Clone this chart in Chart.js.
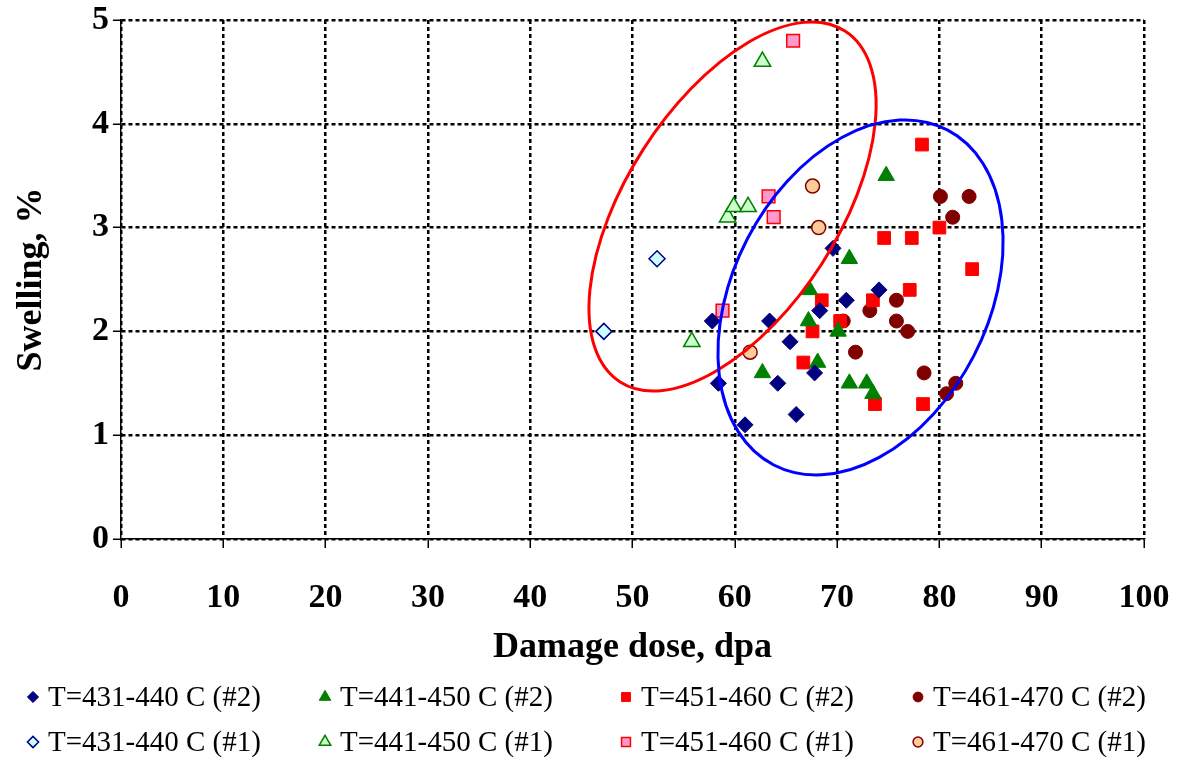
<!DOCTYPE html>
<html>
<head>
<meta charset="utf-8">
<script src="https://cdn.jsdelivr.net/npm/chart.js@4.4.1/dist/chart.umd.min.js"></script>
<style>
html,body{margin:0;padding:0;background:#fff;}
#wrap{width:1181px;height:758px;}
</style>
</head>
<body>
<div id="wrap"><canvas id="c" width="1181" height="758"></canvas></div>
<script>
// ---- data (x: damage dose, dpa; y: swelling, %) ----
const xTicks = [0,10,20,30,40,50,60,70,80,90,100];
const yTicks = [0,1,2,3,4,5];

const labels = [
  'T=431-440 C (#2)','T=441-450 C (#2)','T=451-460 C (#2)','T=461-470 C (#2)',
  'T=431-440 C (#1)','T=441-450 C (#1)','T=451-460 C (#1)','T=461-470 C (#1)'
];

const t431_2 = [[57.8,2.1],[58.4,1.5],[61.0,1.1],[63.4,2.1],[64.2,1.5],[65.4,1.9],[66.0,1.2],[67.8,1.6],[68.3,2.2],[69.6,2.8],[70.9,2.3],[74.1,2.4]];
const t441_2 = [[62.7,1.6],[67.3,2.4],[67.2,2.1],[68.1,1.7],[70.1,2.0],[71.2,2.7],[71.2,1.5],[72.9,1.5],[73.5,1.4],[74.8,3.5]];
const t451_2 = [[66.7,1.7],[67.6,2.0],[68.5,2.3],[70.3,2.1],[73.5,2.3],[73.7,1.3],[74.6,2.9],[77.1,2.4],[77.3,2.9],[78.3,3.8],[78.4,1.3],[80.0,3.0],[83.2,2.6]];
const t461_2 = [[70.6,2.1],[71.8,1.8],[73.2,2.2],[75.8,2.3],[75.8,2.1],[76.9,2.0],[78.5,1.6],[80.1,3.3],[80.7,1.4],[81.3,3.1],[81.6,1.5],[82.9,3.3]];
const t431_1 = [[47.2,2.0],[52.4,2.7]];
const t441_1 = [[55.8,1.9],[59.3,3.1],[59.9,3.2],[61.3,3.2],[62.7,4.6]];
const t451_1 = [[58.8,2.2],[63.3,3.3],[63.8,3.1],[65.7,4.8]];
const t461_1 = [[61.5,1.8],[67.6,3.4],[68.2,3.0]];

// ellipse annotations: centre and two conjugate semi-axis vectors, in data units
const ellipseRed  = {center:[59.78,3.203], u:[10.99,1.690], v:[8.73,-0.551]};
const ellipseBlue = {center:[72.29,2.327], u:[8.48,1.614],  v:[11.06,-0.565]};

// ---- build datasets ----
const toPts = a => a.map(p => ({x:p[0], y:p[1]}));
const series = [t431_2,t441_2,t451_2,t461_2,t431_1,t441_1,t451_1,t461_1];
const styles = [
  {ps:'rectRot', r:8,   bg:'#000080', bc:'#000080', bw:1},
  {ps:'triangle',r:9.5, bg:'#008000', bc:'#008000', bw:1},
  {ps:'rect',    r:9,   bg:'#ff0000', bc:'#ff0000', bw:1},
  {ps:'circle',  r:7,   bg:'#800000', bc:'#800000', bw:1},
  {ps:'rectRot', r:8,   bg:'#ccffff', bc:'#000080', bw:1.5},
  {ps:'triangle',r:9.5, bg:'#ccffcc', bc:'#008000', bw:1.5},
  {ps:'rect',    r:9,   bg:'#ff99cc', bc:'#ff0000', bw:1.5},
  {ps:'circle',  r:7,   bg:'#ffcc99', bc:'#800000', bw:1.5}
];
const datasets = series.map((s,i) => ({
  label: labels[i],
  data: toPts(s),
  pointStyle: styles[i].ps,
  pointRadius: styles[i].r,
  pointHoverRadius: styles[i].r,
  backgroundColor: styles[i].bg,
  borderColor: styles[i].bc,
  borderWidth: styles[i].bw,
  showLine: false
}));

const FONT = "'Liberation Serif', 'Times New Roman', serif";

const ellipsePlugin = {
  id: 'ellipses',
  afterDatasetsDraw(chart) {
    const ctx = chart.ctx, xs = chart.scales.x, ys = chart.scales.y;
    [[ellipseRed,'#ff0000'],[ellipseBlue,'#0000ff']].forEach(([e,col]) => {
      const cx = xs.getPixelForValue(e.center[0]), cy = ys.getPixelForValue(e.center[1]);
      const ux = xs.getPixelForValue(e.center[0]+e.u[0]) - cx, uy = ys.getPixelForValue(e.center[1]+e.u[1]) - cy;
      const vx = xs.getPixelForValue(e.center[0]+e.v[0]) - cx, vy = ys.getPixelForValue(e.center[1]+e.v[1]) - cy;
      ctx.save();
      ctx.beginPath();
      ctx.save();
      ctx.transform(ux,uy,vx,vy,cx,cy);
      ctx.arc(0,0,1,0,Math.PI*2);
      ctx.restore();
      ctx.lineWidth = 3;
      ctx.strokeStyle = col;
      ctx.stroke();
      ctx.restore();
    });
  }
};

const legendPlugin = {
  id: 'gridLegend',
  afterDraw(chart) {
    const ctx = chart.ctx;
    const colX = [33, 325, 626, 918];
    const rowY = [697, 742];
    ctx.save();
    ctx.font = "29px " + FONT;
    ctx.textBaseline = 'middle';
    ctx.textAlign = 'left';
    ctx.fillStyle = '#000';
    chart.data.datasets.forEach((ds,i) => {
      const col = i % 4, row = Math.floor(i/4);
      const x = colX[col], y = rowY[row];
      ctx.save();
      ctx.fillStyle = ds.backgroundColor;
      ctx.strokeStyle = ds.borderColor;
      ctx.lineWidth = ds.borderWidth;
      Chart.helpers.drawPoint(ctx, {pointStyle: ds.pointStyle, radius: ds.pointRadius*0.7, rotation: 0, borderWidth: ds.borderWidth}, x, y);
      ctx.restore();
      ctx.fillText(ds.label, x + 15, y + 1);
    });
    ctx.restore();
  }
};

new Chart(document.getElementById('c'), {
  type: 'scatter',
  data: { datasets },
  options: {
    responsive: false,
    animation: false,
    events: [],
    layout: { padding: { top: 20, right: 37, bottom: 89, left: 0 } },
    plugins: { legend: { display: false }, tooltip: { enabled: false } },
    scales: {
      x: {
        type: 'linear', min: 0, max: 100,
        afterBuildTicks: s => { s.ticks = xTicks.map(v => ({value:v})); },
        afterFit: s => { s.height = 130; s.paddingLeft = 0; s.paddingRight = 0; },
        ticks: { color:'#000', font:{family:FONT, size:34, weight:'bold'}, padding: 30, maxRotation:0 },
        grid: { color:'#000', lineWidth:2.5, tickLength:9, tickWidth:1.5, tickColor:'#000' },
        border: { display:true, color:'#000', width:1.5, dash:[4,3] },
        title: { display:true, text:'Damage dose, dpa', color:'#000', font:{family:FONT, size:36, weight:'bold'}, padding:{top:0,bottom:0} }
      },
      y: {
        type: 'linear', min: 0, max: 5,
        afterBuildTicks: s => { s.ticks = yTicks.map(v => ({value:v})); },
        afterFit: s => { s.width = 121; s.paddingTop = 0; s.paddingBottom = 0; },
        ticks: { color:'#000', font:{family:FONT, size:34, weight:'bold', lineHeight:1}, padding: 4 },
        grid: { color:'#000', lineWidth:2.5, tickLength:8, tickWidth:1.5, tickColor:'#000' },
        border: { display:true, color:'#000', width:1.5, dash:[4,3] },
        title: { display:true, text:'Swelling, %', color:'#000', font:{family:FONT, size:36, weight:'bold'}, padding:{top:10,bottom:0} }
      }
    }
  },
  plugins: [ellipsePlugin, legendPlugin]
});
</script>
</body>
</html>
